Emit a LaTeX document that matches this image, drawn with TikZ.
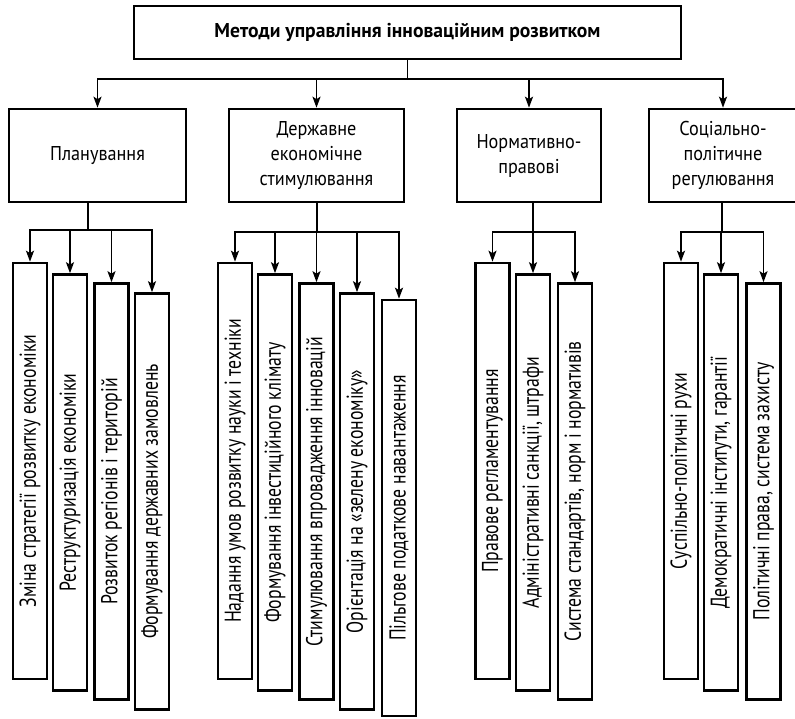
\documentclass[tikz,border=0pt]{standalone}
\usepackage{fontspec}
\setmainfont{PT Sans}
\newfontfamily\headfont{PT Sans}[FakeStretch=0.98]
\newfontfamily\catfont{PT Sans}[FakeStretch=0.91]
\newfontfamily\itemfont{PT Sans}[FakeStretch=0.77]
\usetikzlibrary{arrows.meta,positioning}

\begin{document}
\begin{tikzpicture}[x=1pt,y=-1pt,
        box/.style={draw, line width=2.6pt, inner sep=0pt, align=center},
        headbox/.style={box, minimum width=547pt, minimum height=53pt, font=\headfont\fontsize{20}{24}\selectfont\bfseries},
        catbox/.style={box, minimum height=93pt, font=\catfont\fontsize{20}{25}\selectfont},
        itembox/.style={box, rotate=90, minimum width=416pt, minimum height=34pt, font=\itemfont\fontsize{23}{26}\selectfont},
        link/.style={line width=1.8pt},
        arr/.style={link, -{Stealth[length=11pt,width=8pt,inset=2.5pt]}}]

    \useasboundingbox (0,0) rectangle (795,718);

    \node[headbox] (head) at (407.5,32.5) {Методи управління інноваційним розвитком};

    \node[catbox, minimum width=177pt] (plan) at (97.5,155.5) {Планування};
    \node[catbox, minimum width=175pt] (stim) at (316.5,155.5) {Державне\\економічне\\стимулювання};
    \node[catbox, minimum width=144pt] (norm) at (529,155.5) {Нормативно-\\правові};
    \node[catbox, minimum width=148pt] (soc) at (723,155.5) {Соціально-\\політичне\\регулювання};

    \coordinate (bus) at (408,79);
    \draw[link] (head.south) -- (head.south |- bus);
    \foreach \n in {plan,stim,norm,soc}
        \draw[arr] (head.south |- bus) -| (\n.north);

    \node[itembox] (p1) at (30,471) {Зміна стратегії розвитку економіки};
    \node[itembox] (p2) at (70,482.5) {Реструктуризація економіки};
    \node[itembox] (p3) at (111.5,491.5) {Розвиток регіонів і територій};
    \node[itembox] (p4) at (152,501.5) {Формування державних замовлень};

    \node[itembox] (s1) at (235,471) {Надання умов розвитку науки і техніки};
    \node[itembox] (s2) at (275,482.5) {Формування інвестиційного клімату};
    \node[itembox] (s3) at (316.5,491.5) {Стимулювання впровадження інновацій};
    \node[itembox] (s4) at (357,501.5) {Орієнтація на «зелену економіку»};
    \node[itembox] (s5) at (399,508) {Пільгове податкове навантаження};

    \node[itembox] (n1) at (492.5,471) {Правове регламентування};
    \node[itembox] (n2) at (533,482.5) {Адміністративні санкції, штрафи};
    \node[itembox] (n3) at (575,491.5) {Система стандартів, норм і нормативів};

    \node[itembox] (c1) at (681,471) {Суспільно-політичні рухи};
    \node[itembox] (c2) at (721,482.5) {Демократичні інститути, гарантії};
    \node[itembox] (c3) at (763.5,491.5) {Політичні права, система захисту};

    \coordinate (pbus) at (88,230);
    \coordinate (sbus) at (317,232);
    \coordinate (nbus) at (533,232);
    \coordinate (cbus) at (722,232);

    \draw[link] (pbus |- plan.south) -- (pbus);
    \draw[link] (sbus |- stim.south) -- (sbus);
    \draw[link] (nbus |- norm.south) -- (nbus);
    \draw[link] (cbus |- soc.south) -- (cbus);

    \foreach \n in {p1,p2,p3,p4}
        \draw[arr] (pbus) -| (\n.east);
    \foreach \n in {s1,s2,s3,s4,s5}
        \draw[arr] (sbus) -| (\n.east);
    \foreach \n in {n1,n2,n3}
        \draw[arr] (nbus) -| (\n.east);
    \foreach \n in {c1,c2,c3}
        \draw[arr] (cbus) -| (\n.east);
\end{tikzpicture}
\end{document}
